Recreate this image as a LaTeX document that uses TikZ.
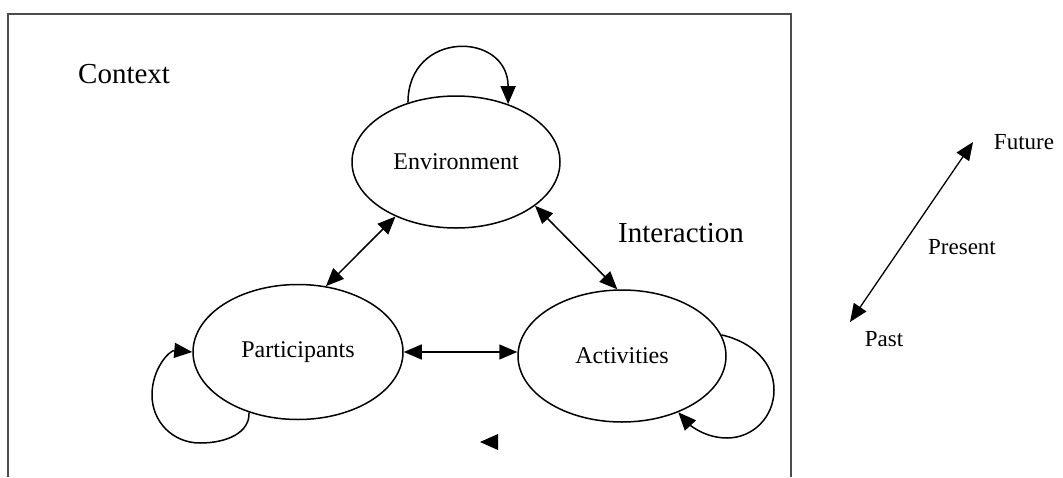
\documentclass[tikz,border=0pt]{standalone}
\usepackage{fontspec}
\setmainfont{Liberation Serif}
\usetikzlibrary{shapes.geometric,arrows.meta}
\begin{document}
\begin{tikzpicture}[x=1pt,y=-1pt,
  state/.style={ellipse,draw,line width=1.5pt,minimum width=208pt,minimum height=132pt,inner sep=0pt,font=\fontsize{24}{28}\selectfont},
  link/.style={line width=1.5pt,-{Triangle[length=18pt,width=15pt]}},
  dlink/.style={line width=1.5pt,{Triangle[length=18pt,width=15pt]}-{Triangle[length=18pt,width=15pt]}},
  big/.style={font=\fontsize{29}{34}\selectfont,inner sep=0pt,anchor=base west},
  small/.style={font=\fontsize{23}{27}\selectfont,inner sep=0pt}]
\useasboundingbox (0,0) rectangle (1063,477);
% frame
\draw[line width=2pt,draw=black!70] (8,477) -- (8,14) -- (791,14) -- (791,477);
% states
\node[state] (env) at (456,162) {Environment};
\node[state,minimum width=210pt,minimum height=135pt] (part) at (298,352) {Participants};
\node[state] (act) at (622,356) {Activities};
% labels
\node[big] (ctx) at (78,83) {Context};
\node[big] (inter) at (618,242) {Interaction};
% connectors
\draw[dlink] (part.east) -- (part.east -| act.west);
\draw[dlink] (part.67) -- (env.222);
\draw[dlink] (env.331) -- (act.94);
% self loops
\draw[link] (env.129) .. controls +(0,-73) and +(0,-73) .. (env.48);
\draw[link] (part.231) .. controls (250,432) and (228,443) .. (200,443)
  .. controls (173,443) and (152,422) .. (152,395)
  .. controls (152,368) and (170,350) .. (part.west);
\draw[link] (act.12) .. controls (753,342) and (774,363) .. (774,390)
  .. controls (774,417) and (753,438) .. (727,438)
  .. controls (705,438) and (690,425) .. (act.315);
% stray arrowhead
\fill (480,442) -- (498,434) -- (498,450) -- cycle;
% time axis
\coordinate (pastTip) at (850,322);
\coordinate (futTip) at (973,142);
\draw[dlink,line width=1.3pt] (pastTip) -- (futTip);
\node[small] (future) at (1024,142) {Future};
\node[small] (present) at (962,247) {Present};
\node[small] (past) at (884,339) {Past};
\end{tikzpicture}
\end{document}
